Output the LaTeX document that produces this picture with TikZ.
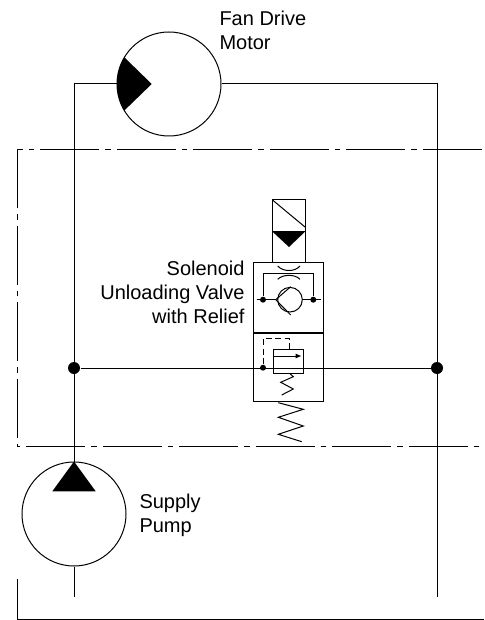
\documentclass[tikz,border=0pt]{standalone}
\usepackage{fontspec}
\setmainfont{Liberation Sans}
\usetikzlibrary{arrows.meta}
\tikzset{
    unit/.style={circle,draw,line width=1pt,minimum size=104pt,inner sep=0pt},
    junction/.style={circle,fill=black,inner sep=0pt,minimum size=12pt},
    port/.style={circle,fill=black,inner sep=0pt,minimum size=6pt},
    boundary/.style={line width=1pt,dash pattern=on 59pt off 6pt on 5.5pt off 6pt},
    label/.style={font=\fontsize{20}{24}\selectfont,inner sep=0pt}
}
\begin{document}
\begin{tikzpicture}[x=1pt,y=-1pt,line width=1pt]
\useasboundingbox (0,0) rectangle (484,620);
% boundary
\draw[boundary] (481.5,150)--(17,150);
\draw[boundary,dash phase=1pt] (17,150)--(17,446)--(484,446);
\draw (17,579)--(17,619.5)--(484,619.5);
% motor and pump
\node[unit] (motor) at (169,84){};
\node[unit] (pump) at (74,514){};
\coordinate (pumpend) at (74,597);
\coordinate (returnend) at (437,597);
\node[junction] (jleft) at (74,368){};
\node[junction] (jright) at (437,368){};
\draw (motor.west)-|(pump.north);
\draw (motor.east)-|(returnend);
\draw (pump.south)--(pumpend);
\draw (jleft)--(jright);
\fill (151.7,84)--(124.3,57.3) arc[start angle=210.8,end angle=149.2,radius=52]--cycle;
\fill (pump.north)--(95.7,491.3)--(52.3,491.3)--cycle;
% solenoid
\draw (272.5,263)--(272.5,199.5)--(305,199.5)--(305,263);
\draw (272.5,200)--(305,227);
\fill (272.5,231.7)--(305,231.7)--(289,247)--cycle;
\draw (272.5,231.7)--(305,231.7);
% valve body
\node[draw,minimum width=70pt,minimum height=69.5pt,inner sep=0pt] (upper) at (288.3,297.7){};
\node[draw,minimum width=70pt,minimum height=69.5pt,inner sep=0pt] (lower) at (288.3,367.2){};
\draw[line width=1.6pt] (upper.south west)--(upper.south east);
% check valve with orifice
\node[port] (pleft) at (263,299.7){};
\node[port] (pright) at (313.3,299.7){};
\node[circle,draw,minimum size=24.6pt,inner sep=0pt] (check) at (290,299.7){};
\coordinate (seat) at (275.7,299.7);
\coordinate (stubl) at (256.7,299.7);
\coordinate (stubr) at (320.5,299.7);
\draw (stubl)--(seat);
\draw (check.east)--(stubr);
\draw (290.7,286.7)--(seat)--(290.7,315);
\draw (pleft)|-(289,273.3)-|(pright);
\draw (277.7,266) .. controls (283,272) and (295,272) .. (300,266);
\draw (277.7,279.3) .. controls (283,274) and (295,274) .. (300,279.3);
% relief
\node[draw,minimum width=29.7pt,minimum height=24pt,inner sep=0pt] (relief) at (288.8,361.3){};
\node[port] (pilot) at (263,367.7){};
\draw[dash pattern=on 6pt off 3.5pt] (pilot)--(263,338.3)--(289.3,338.3)--(relief.north-|289.3,0);
\draw[-{Latex[length=6pt,width=5pt]}] (relief.west|-0,356)--(301.7,356);
\draw (290,373.7)--(293.3,376.7)--(280.7,382.3)--(293.3,389)--(281.7,395);
% spring
\draw (278.3,402.7)--(303.3,409.3)--(278.3,417.3)--(303.3,426)--(278.3,434.3)--(301.7,441.7);
% labels
\node[label,anchor=base west,align=left] (motortext) at (219,50){Fan Drive\\Motor};
\node[label,anchor=base west,align=left] (pumptext) at (139,532){Supply\\Pump};
\node[label,anchor=base east,align=right] (valvetext) at (245,323){Solenoid\\Unloading Valve\\with Relief};
\end{tikzpicture}
\end{document}
